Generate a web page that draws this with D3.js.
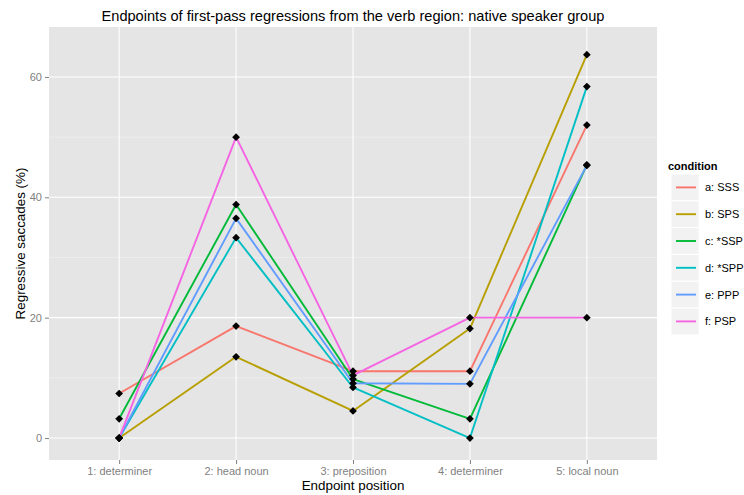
<!DOCTYPE html>
<html>
<head>
<meta charset="utf-8">
<script src="https://cdn.jsdelivr.net/npm/d3@7"></script>
<style>
  html, body { margin: 0; padding: 0; background: #fff; }
  svg { display: block; font-family: "Liberation Sans", Arial, sans-serif; }
</style>
</head>
<body>
<svg id="chart" width="744" height="495"></svg>
<script>
// Endpoint regions along the x axis
const positions = ["1: determiner", "2: head noun", "3: preposition", "4: determiner", "5: local noun"];

// Conditions (legend order)
const conditions = ["a: SSS", "b: SPS", "c: *SSP", "d: *SPP", "e: PPP", "f: PSP"];

// Percentage of regressive saccades landing in each region, per condition
const valuesSSS = [7.4, 18.6, 11.1, 11.1, 52.0];
const valuesSPS = [0, 13.5, 4.5, 18.2, 63.7];
const valuesSSP = [3.2, 38.8, 9.8, 3.2, 45.4];
const valuesSPP = [0, 33.3, 8.4, 0, 58.4];
const valuesPPP = [0, 36.5, 9.1, 9.0, 45.3];
const valuesPSP = [0, 50.0, 10.4, 20.0, 20.0];

const yTicks = [0, 20, 40, 60];
const yMinor = [10, 30, 50];

const seriesValues = [valuesSSS, valuesSPS, valuesSSP, valuesSPP, valuesPPP, valuesPSP];
const series = conditions.map((c, i) => ({
  name: c,
  points: positions.map((p, j) => ({ pos: p, value: seriesValues[i][j] }))
}));

const palette = ["#F8766D", "#B79F00", "#00BA38", "#00BFC4", "#619CFF", "#F564E3"];
const color = d3.scaleOrdinal().domain(conditions).range(palette);

const svg = d3.select("#chart");
const panel = { left: 49, right: 657, top: 27, bottom: 460 };

// Discrete x scale with ggplot-style 0.6 unit padding on each side
const x = d3.scalePoint()
  .domain(positions)
  .range([panel.left, panel.right])
  .padding(0.6);

const y = d3.scaleLinear()
  .domain([-3.65, 68.3])
  .range([panel.bottom, panel.top]);

// Panel background
svg.append("rect")
  .attr("x", panel.left).attr("y", panel.top)
  .attr("width", panel.right - panel.left)
  .attr("height", panel.bottom - panel.top)
  .attr("fill", "#E5E5E5");

const grid = svg.append("g");
grid.selectAll(".minor").data(yMinor).join("line")
  .attr("x1", panel.left).attr("x2", panel.right)
  .attr("y1", d => y(d)).attr("y2", d => y(d))
  .attr("stroke", "#F2F2F2").attr("stroke-width", 0.6);
grid.selectAll(".majorY").data(yTicks).join("line")
  .attr("x1", panel.left).attr("x2", panel.right)
  .attr("y1", d => y(d)).attr("y2", d => y(d))
  .attr("stroke", "#FFFFFF").attr("stroke-width", 1.1);
grid.selectAll(".majorX").data(positions).join("line")
  .attr("x1", d => x(d)).attr("x2", d => x(d))
  .attr("y1", panel.top).attr("y2", panel.bottom)
  .attr("stroke", "#FFFFFF").attr("stroke-width", 1.1);

// Axes
const xAxis = svg.append("g")
  .attr("transform", `translate(0,${panel.bottom})`)
  .call(d3.axisBottom(x).tickSize(4).tickPadding(3));
const yAxis = svg.append("g")
  .attr("transform", `translate(${panel.left},0)`)
  .call(d3.axisLeft(y).tickValues(yTicks).tickSize(4).tickPadding(3));
[xAxis, yAxis].forEach(g => {
  g.select(".domain").remove();
  g.selectAll(".tick line").attr("stroke", "#7F7F7F");
  g.selectAll(".tick text")
    .attr("fill", "#7F7F7F")
    .style("font-size", "11px")
    .style("font-family", "'Liberation Sans', Arial, sans-serif");
});

// Lines
const line = d3.line()
  .x(d => x(d.pos))
  .y(d => y(d.value));

svg.append("g").selectAll("path").data(series).join("path")
  .attr("d", d => line(d.points))
  .attr("fill", "none")
  .attr("stroke", d => color(d.name))
  .attr("stroke-width", 1.9)
  .attr("stroke-linejoin", "round");

// Diamond markers
const diamond = d3.symbol().type(d3.symbolSquare).size(30);
svg.append("g").selectAll("g").data(series).join("g")
  .selectAll("path").data(d => d.points).join("path")
  .attr("d", diamond)
  .attr("transform", d => `translate(${x(d.pos)},${y(d.value)}) rotate(45)`)
  .attr("fill", "#000");

// Titles
svg.append("text")
  .attr("x", (panel.left + panel.right) / 2).attr("y", 21)
  .attr("text-anchor", "middle")
  .style("font-size", "14.6px")
  .attr("fill", "#000")
  .text("Endpoints of first-pass regressions from the verb region: native speaker group");

svg.append("text")
  .attr("x", (panel.left + panel.right) / 2).attr("y", 490)
  .attr("text-anchor", "middle")
  .style("font-size", "13.4px")
  .attr("fill", "#000")
  .text("Endpoint position");

svg.append("text")
  .attr("transform", `translate(25,${(panel.top + panel.bottom) / 2}) rotate(-90)`)
  .attr("text-anchor", "middle")
  .style("font-size", "13.4px")
  .attr("fill", "#000")
  .text("Regressive saccades (%)");

// Legend
const legend = svg.append("g").attr("transform", "translate(668,0)");
legend.append("text")
  .attr("x", 0).attr("y", 170)
  .style("font-size", "11px")
  .style("font-weight", "bold")
  .text("condition");

const keyH = 26.8, keyW = 28, keyTop = 174;
const keys = legend.selectAll(".key").data(conditions).join("g")
  .attr("transform", (d, i) => `translate(3,${keyTop + i * keyH})`);
keys.append("rect")
  .attr("width", keyW).attr("height", keyH)
  .attr("fill", "#F2F2F2")
  .attr("stroke", "#FFFFFF").attr("stroke-width", 1);
keys.append("line")
  .attr("x1", 5).attr("x2", keyW - 3)
  .attr("y1", keyH / 2).attr("y2", keyH / 2)
  .attr("stroke", d => color(d))
  .attr("stroke-width", 1.9);
keys.append("text")
  .attr("x", keyW + 6).attr("y", keyH / 2 + 4)
  .style("font-size", "11px")
  .text(d => d);
</script>
</body>
</html>
